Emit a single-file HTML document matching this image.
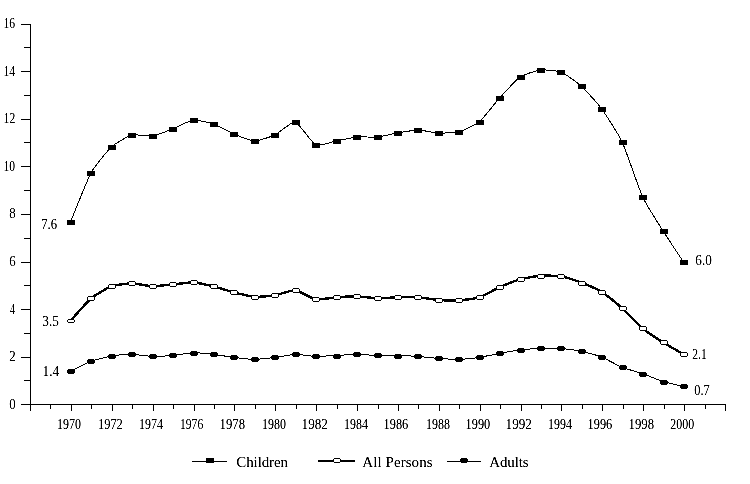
<!DOCTYPE html><html><head><meta charset="utf-8"><style>html,body{margin:0;padding:0;background:#fff;width:750px;height:484px;overflow:hidden}svg{display:block}text{font-family:"Liberation Serif",serif;fill:#000}</style></head><body>
<svg width="750" height="484" viewBox="0 0 750 484">
<defs><filter id="cr" x="0" y="0" width="750" height="484" filterUnits="userSpaceOnUse"><feComponentTransfer><feFuncA type="discrete" tableValues="0 1"/></feComponentTransfer></filter><filter id="gs" x="0" y="0" width="750" height="484" filterUnits="userSpaceOnUse"><feColorMatrix type="saturate" values="0"/><feComponentTransfer><feFuncA type="linear" slope="1.7" intercept="-0.25"/></feComponentTransfer></filter></defs>
<rect width="750" height="484" fill="#fff"/>
<g shape-rendering="crispEdges" fill="#000">
<rect x="30" y="24" width="1" height="387"/>
<rect x="21" y="404" width="705" height="1"/>
<rect x="21" y="404" width="9" height="1"/>
<rect x="24" y="380" width="6" height="1"/>
<rect x="21" y="357" width="9" height="1"/>
<rect x="24" y="333" width="6" height="1"/>
<rect x="21" y="309" width="9" height="1"/>
<rect x="24" y="285" width="6" height="1"/>
<rect x="21" y="262" width="9" height="1"/>
<rect x="24" y="238" width="6" height="1"/>
<rect x="21" y="214" width="9" height="1"/>
<rect x="24" y="190" width="6" height="1"/>
<rect x="21" y="166" width="9" height="1"/>
<rect x="24" y="142" width="6" height="1"/>
<rect x="21" y="119" width="9" height="1"/>
<rect x="24" y="95" width="6" height="1"/>
<rect x="21" y="71" width="9" height="1"/>
<rect x="24" y="47" width="6" height="1"/>
<rect x="21" y="24" width="9" height="1"/>
<rect x="30" y="404" width="1" height="7"/>
<rect x="50" y="404" width="1" height="5"/>
<rect x="71" y="404" width="1" height="7"/>
<rect x="91" y="404" width="1" height="5"/>
<rect x="112" y="404" width="1" height="7"/>
<rect x="132" y="404" width="1" height="5"/>
<rect x="153" y="404" width="1" height="7"/>
<rect x="173" y="404" width="1" height="5"/>
<rect x="194" y="404" width="1" height="7"/>
<rect x="214" y="404" width="1" height="5"/>
<rect x="234" y="404" width="1" height="7"/>
<rect x="255" y="404" width="1" height="5"/>
<rect x="275" y="404" width="1" height="7"/>
<rect x="296" y="404" width="1" height="5"/>
<rect x="316" y="404" width="1" height="7"/>
<rect x="337" y="404" width="1" height="5"/>
<rect x="357" y="404" width="1" height="7"/>
<rect x="378" y="404" width="1" height="5"/>
<rect x="398" y="404" width="1" height="7"/>
<rect x="418" y="404" width="1" height="5"/>
<rect x="439" y="404" width="1" height="7"/>
<rect x="459" y="404" width="1" height="5"/>
<rect x="480" y="404" width="1" height="7"/>
<rect x="500" y="404" width="1" height="5"/>
<rect x="521" y="404" width="1" height="7"/>
<rect x="541" y="404" width="1" height="5"/>
<rect x="561" y="404" width="1" height="7"/>
<rect x="582" y="404" width="1" height="5"/>
<rect x="602" y="404" width="1" height="7"/>
<rect x="623" y="404" width="1" height="5"/>
<rect x="643" y="404" width="1" height="7"/>
<rect x="664" y="404" width="1" height="5"/>
<rect x="684" y="404" width="1" height="7"/>
<rect x="705" y="404" width="1" height="5"/>
<rect x="725" y="404" width="1" height="7"/>
</g>
<g fill="none" stroke="#000" shape-rendering="crispEdges">
<path d="M70.50 222.00 C72.20 217.92 87.53 179.25 90.93 173.00 C94.34 166.75 107.96 150.17 111.37 147.00 C114.77 143.83 128.39 135.92 131.80 135.00 C135.21 134.08 148.83 136.50 152.23 136.00 C155.64 135.50 169.26 130.33 172.67 129.00 C176.07 127.67 189.69 120.42 193.10 120.00 C196.51 119.58 210.13 122.83 213.53 124.00 C216.94 125.17 230.56 132.58 233.97 134.00 C237.37 135.42 250.99 140.92 254.40 141.00 C257.81 141.08 271.43 136.58 274.83 135.00 C278.24 133.42 291.86 121.17 295.27 122.00 C298.67 122.83 312.29 143.42 315.70 145.00 C319.11 146.58 332.73 141.67 336.13 141.00 C339.54 140.33 353.16 137.33 356.57 137.00 C359.97 136.67 373.59 137.33 377.00 137.00 C380.41 136.67 394.03 133.58 397.43 133.00 C400.84 132.42 414.46 130.00 417.87 130.00 C421.27 130.00 434.89 132.83 438.30 133.00 C441.71 133.17 455.33 132.92 458.73 132.00 C462.14 131.08 475.76 124.83 479.17 122.00 C482.57 119.17 496.19 101.75 499.60 98.00 C503.01 94.25 516.63 79.33 520.03 77.00 C523.44 74.67 537.06 70.42 540.47 70.00 C543.87 69.58 557.49 70.67 560.90 72.00 C564.31 73.33 577.93 82.92 581.33 86.00 C584.74 89.08 598.36 104.33 601.77 109.00 C605.17 113.67 618.79 134.67 622.20 142.00 C625.61 149.33 639.23 189.58 642.63 197.00 C646.04 204.42 659.66 225.58 663.07 231.00 C666.47 236.42 681.80 259.42 683.50 262.00" stroke-width="1"/>
<path d="M70.50 320.70 C72.20 318.85 87.53 301.38 90.93 298.50 C94.34 295.62 107.96 287.46 111.37 286.20 C114.77 284.94 128.39 283.40 131.80 283.40 C135.21 283.40 148.83 286.11 152.23 286.20 C155.64 286.29 169.26 284.82 172.67 284.50 C176.07 284.18 189.69 282.24 193.10 282.40 C196.51 282.56 210.13 285.57 213.53 286.40 C216.94 287.23 230.56 291.53 233.97 292.40 C237.37 293.27 250.99 296.55 254.40 296.80 C257.81 297.05 271.43 295.95 274.83 295.40 C278.24 294.85 291.86 289.87 295.27 290.20 C298.67 290.53 312.29 298.81 315.70 299.40 C319.11 299.99 332.73 297.55 336.13 297.30 C339.54 297.05 353.16 296.32 356.57 296.40 C359.97 296.47 373.59 298.12 377.00 298.20 C380.41 298.28 394.03 297.48 397.43 297.40 C400.84 297.32 414.46 296.98 417.87 297.20 C421.27 297.42 434.89 299.75 438.30 300.00 C441.71 300.25 455.33 300.42 458.73 300.20 C462.14 299.98 475.76 298.48 479.17 297.40 C482.57 296.32 496.19 288.70 499.60 287.20 C503.01 285.70 516.63 280.37 520.03 279.40 C523.44 278.43 537.06 275.85 540.47 275.60 C543.87 275.35 557.49 275.82 560.90 276.40 C564.31 276.98 577.93 281.30 581.33 282.60 C584.74 283.90 598.36 289.86 601.77 292.00 C605.17 294.14 618.79 305.27 622.20 308.30 C625.61 311.33 639.23 325.56 642.63 328.40 C646.04 331.24 659.66 340.24 663.07 342.40 C666.47 344.56 681.80 353.31 683.50 354.30" stroke-width="2.4"/>
<path d="M70.50 371.40 C72.20 370.57 87.53 362.68 90.93 361.40 C94.34 360.12 107.96 356.58 111.37 356.00 C114.77 355.42 128.39 354.37 131.80 354.40 C135.21 354.43 148.83 356.32 152.23 356.40 C155.64 356.48 169.26 355.71 172.67 355.40 C176.07 355.09 189.69 352.78 193.10 352.70 C196.51 352.62 210.13 354.01 213.53 354.40 C216.94 354.79 230.56 356.98 233.97 357.40 C237.37 357.82 250.99 359.40 254.40 359.40 C257.81 359.40 271.43 357.82 274.83 357.40 C278.24 356.98 291.86 354.48 295.27 354.40 C298.67 354.32 312.29 356.31 315.70 356.40 C319.11 356.49 332.73 355.67 336.13 355.50 C339.54 355.33 353.16 354.41 356.57 354.40 C359.97 354.39 373.59 355.31 377.00 355.40 C380.41 355.49 394.03 355.42 397.43 355.50 C400.84 355.58 414.46 356.16 417.87 356.40 C421.27 356.64 434.89 358.15 438.30 358.40 C441.71 358.65 455.33 359.48 458.73 359.40 C462.14 359.32 475.76 357.90 479.17 357.40 C482.57 356.90 496.19 354.02 499.60 353.40 C503.01 352.78 516.63 350.42 520.03 350.00 C523.44 349.58 537.06 348.53 540.47 348.40 C543.87 348.27 557.49 348.15 560.90 348.40 C564.31 348.65 577.93 350.67 581.33 351.40 C584.74 352.12 598.36 355.77 601.77 357.10 C605.17 358.43 618.79 366.02 622.20 367.40 C625.61 368.77 639.23 372.42 642.63 373.60 C646.04 374.78 659.66 380.53 663.07 381.60 C666.47 382.67 681.80 386.00 683.50 386.40" stroke-width="1"/>
</g>
<g shape-rendering="crispEdges">
<rect x="67" y="220" width="8" height="5" fill="#000"/>
<rect x="87" y="171" width="8" height="5" fill="#000"/>
<rect x="108" y="145" width="8" height="5" fill="#000"/>
<rect x="128" y="133" width="8" height="5" fill="#000"/>
<rect x="149" y="134" width="8" height="5" fill="#000"/>
<rect x="169" y="127" width="8" height="5" fill="#000"/>
<rect x="190" y="118" width="8" height="5" fill="#000"/>
<rect x="210" y="122" width="8" height="5" fill="#000"/>
<rect x="230" y="132" width="8" height="5" fill="#000"/>
<rect x="251" y="139" width="8" height="5" fill="#000"/>
<rect x="271" y="133" width="8" height="5" fill="#000"/>
<rect x="292" y="120" width="8" height="5" fill="#000"/>
<rect x="312" y="143" width="8" height="5" fill="#000"/>
<rect x="333" y="139" width="8" height="5" fill="#000"/>
<rect x="353" y="135" width="8" height="5" fill="#000"/>
<rect x="374" y="135" width="8" height="5" fill="#000"/>
<rect x="394" y="131" width="8" height="5" fill="#000"/>
<rect x="414" y="128" width="8" height="5" fill="#000"/>
<rect x="435" y="131" width="8" height="5" fill="#000"/>
<rect x="455" y="130" width="8" height="5" fill="#000"/>
<rect x="476" y="120" width="8" height="5" fill="#000"/>
<rect x="496" y="96" width="8" height="5" fill="#000"/>
<rect x="517" y="75" width="8" height="5" fill="#000"/>
<rect x="537" y="68" width="8" height="5" fill="#000"/>
<rect x="557" y="70" width="8" height="5" fill="#000"/>
<rect x="578" y="84" width="8" height="5" fill="#000"/>
<rect x="598" y="107" width="8" height="5" fill="#000"/>
<rect x="619" y="140" width="8" height="5" fill="#000"/>
<rect x="639" y="195" width="8" height="5" fill="#000"/>
<rect x="660" y="229" width="8" height="5" fill="#000"/>
<rect x="680" y="260" width="8" height="5" fill="#000"/>
<path d="M68 319h6v1h1v2h-1v1h-6v-1h-1v-2h1z" fill="#000"/>
<rect x="68" y="320" width="6" height="2" fill="#fff"/>
<path d="M88 296h6v1h1v3h-1v1h-6v-1h-1v-3h1z" fill="#000"/>
<rect x="88" y="297" width="6" height="3" fill="#fff"/>
<path d="M109 284h6v1h1v3h-1v1h-6v-1h-1v-3h1z" fill="#000"/>
<rect x="109" y="285" width="6" height="3" fill="#fff"/>
<path d="M129 281h6v1h1v3h-1v1h-6v-1h-1v-3h1z" fill="#000"/>
<rect x="129" y="282" width="6" height="3" fill="#fff"/>
<path d="M150 284h6v1h1v3h-1v1h-6v-1h-1v-3h1z" fill="#000"/>
<rect x="150" y="285" width="6" height="3" fill="#fff"/>
<path d="M170 282h6v1h1v3h-1v1h-6v-1h-1v-3h1z" fill="#000"/>
<rect x="170" y="283" width="6" height="3" fill="#fff"/>
<path d="M191 280h6v1h1v3h-1v1h-6v-1h-1v-3h1z" fill="#000"/>
<rect x="191" y="281" width="6" height="3" fill="#fff"/>
<path d="M211 284h6v1h1v3h-1v1h-6v-1h-1v-3h1z" fill="#000"/>
<rect x="211" y="285" width="6" height="3" fill="#fff"/>
<path d="M231 290h6v1h1v3h-1v1h-6v-1h-1v-3h1z" fill="#000"/>
<rect x="231" y="291" width="6" height="3" fill="#fff"/>
<path d="M252 295h6v1h1v3h-1v1h-6v-1h-1v-3h1z" fill="#000"/>
<rect x="252" y="296" width="6" height="3" fill="#fff"/>
<path d="M272 293h6v1h1v3h-1v1h-6v-1h-1v-3h1z" fill="#000"/>
<rect x="272" y="294" width="6" height="3" fill="#fff"/>
<path d="M293 288h6v1h1v3h-1v1h-6v-1h-1v-3h1z" fill="#000"/>
<rect x="293" y="289" width="6" height="3" fill="#fff"/>
<path d="M313 297h6v1h1v3h-1v1h-6v-1h-1v-3h1z" fill="#000"/>
<rect x="313" y="298" width="6" height="3" fill="#fff"/>
<path d="M334 295h6v1h1v3h-1v1h-6v-1h-1v-3h1z" fill="#000"/>
<rect x="334" y="296" width="6" height="3" fill="#fff"/>
<path d="M354 294h6v1h1v3h-1v1h-6v-1h-1v-3h1z" fill="#000"/>
<rect x="354" y="295" width="6" height="3" fill="#fff"/>
<path d="M375 296h6v1h1v3h-1v1h-6v-1h-1v-3h1z" fill="#000"/>
<rect x="375" y="297" width="6" height="3" fill="#fff"/>
<path d="M395 295h6v1h1v3h-1v1h-6v-1h-1v-3h1z" fill="#000"/>
<rect x="395" y="296" width="6" height="3" fill="#fff"/>
<path d="M415 295h6v1h1v3h-1v1h-6v-1h-1v-3h1z" fill="#000"/>
<rect x="415" y="296" width="6" height="3" fill="#fff"/>
<path d="M436 298h6v1h1v3h-1v1h-6v-1h-1v-3h1z" fill="#000"/>
<rect x="436" y="299" width="6" height="3" fill="#fff"/>
<path d="M456 298h6v1h1v3h-1v1h-6v-1h-1v-3h1z" fill="#000"/>
<rect x="456" y="299" width="6" height="3" fill="#fff"/>
<path d="M477 295h6v1h1v3h-1v1h-6v-1h-1v-3h1z" fill="#000"/>
<rect x="477" y="296" width="6" height="3" fill="#fff"/>
<path d="M497 285h6v1h1v3h-1v1h-6v-1h-1v-3h1z" fill="#000"/>
<rect x="497" y="286" width="6" height="3" fill="#fff"/>
<path d="M518 277h6v1h1v3h-1v1h-6v-1h-1v-3h1z" fill="#000"/>
<rect x="518" y="278" width="6" height="3" fill="#fff"/>
<path d="M538 274h6v1h1v3h-1v1h-6v-1h-1v-3h1z" fill="#000"/>
<rect x="538" y="275" width="6" height="3" fill="#fff"/>
<path d="M558 274h6v1h1v3h-1v1h-6v-1h-1v-3h1z" fill="#000"/>
<rect x="558" y="275" width="6" height="3" fill="#fff"/>
<path d="M579 281h6v1h1v3h-1v1h-6v-1h-1v-3h1z" fill="#000"/>
<rect x="579" y="282" width="6" height="3" fill="#fff"/>
<path d="M599 290h6v1h1v3h-1v1h-6v-1h-1v-3h1z" fill="#000"/>
<rect x="599" y="291" width="6" height="3" fill="#fff"/>
<path d="M620 306h6v1h1v3h-1v1h-6v-1h-1v-3h1z" fill="#000"/>
<rect x="620" y="307" width="6" height="3" fill="#fff"/>
<path d="M640 326h6v1h1v3h-1v1h-6v-1h-1v-3h1z" fill="#000"/>
<rect x="640" y="327" width="6" height="3" fill="#fff"/>
<path d="M661 340h6v1h1v3h-1v1h-6v-1h-1v-3h1z" fill="#000"/>
<rect x="661" y="341" width="6" height="3" fill="#fff"/>
<path d="M681 352h6v1h1v3h-1v1h-6v-1h-1v-3h1z" fill="#000"/>
<rect x="681" y="353" width="6" height="3" fill="#fff"/>
<path d="M68 369h6v1h1v3h-1v1h-6v-1h-1v-3h1z" fill="#000"/>
<path d="M88 359h6v1h1v3h-1v1h-6v-1h-1v-3h1z" fill="#000"/>
<path d="M109 354h6v1h1v3h-1v1h-6v-1h-1v-3h1z" fill="#000"/>
<path d="M129 352h6v1h1v3h-1v1h-6v-1h-1v-3h1z" fill="#000"/>
<path d="M150 354h6v1h1v3h-1v1h-6v-1h-1v-3h1z" fill="#000"/>
<path d="M170 353h6v1h1v3h-1v1h-6v-1h-1v-3h1z" fill="#000"/>
<path d="M191 351h6v1h1v3h-1v1h-6v-1h-1v-3h1z" fill="#000"/>
<path d="M211 352h6v1h1v3h-1v1h-6v-1h-1v-3h1z" fill="#000"/>
<path d="M231 355h6v1h1v3h-1v1h-6v-1h-1v-3h1z" fill="#000"/>
<path d="M252 357h6v1h1v3h-1v1h-6v-1h-1v-3h1z" fill="#000"/>
<path d="M272 355h6v1h1v3h-1v1h-6v-1h-1v-3h1z" fill="#000"/>
<path d="M293 352h6v1h1v3h-1v1h-6v-1h-1v-3h1z" fill="#000"/>
<path d="M313 354h6v1h1v3h-1v1h-6v-1h-1v-3h1z" fill="#000"/>
<path d="M334 354h6v1h1v3h-1v1h-6v-1h-1v-3h1z" fill="#000"/>
<path d="M354 352h6v1h1v3h-1v1h-6v-1h-1v-3h1z" fill="#000"/>
<path d="M375 353h6v1h1v3h-1v1h-6v-1h-1v-3h1z" fill="#000"/>
<path d="M395 354h6v1h1v3h-1v1h-6v-1h-1v-3h1z" fill="#000"/>
<path d="M415 354h6v1h1v3h-1v1h-6v-1h-1v-3h1z" fill="#000"/>
<path d="M436 356h6v1h1v3h-1v1h-6v-1h-1v-3h1z" fill="#000"/>
<path d="M456 357h6v1h1v3h-1v1h-6v-1h-1v-3h1z" fill="#000"/>
<path d="M477 355h6v1h1v3h-1v1h-6v-1h-1v-3h1z" fill="#000"/>
<path d="M497 351h6v1h1v3h-1v1h-6v-1h-1v-3h1z" fill="#000"/>
<path d="M518 348h6v1h1v3h-1v1h-6v-1h-1v-3h1z" fill="#000"/>
<path d="M538 346h6v1h1v3h-1v1h-6v-1h-1v-3h1z" fill="#000"/>
<path d="M558 346h6v1h1v3h-1v1h-6v-1h-1v-3h1z" fill="#000"/>
<path d="M579 349h6v1h1v3h-1v1h-6v-1h-1v-3h1z" fill="#000"/>
<path d="M599 355h6v1h1v3h-1v1h-6v-1h-1v-3h1z" fill="#000"/>
<path d="M620 365h6v1h1v3h-1v1h-6v-1h-1v-3h1z" fill="#000"/>
<path d="M640 372h6v1h1v3h-1v1h-6v-1h-1v-3h1z" fill="#000"/>
<path d="M661 380h6v1h1v3h-1v1h-6v-1h-1v-3h1z" fill="#000"/>
<path d="M681 384h6v1h1v3h-1v1h-6v-1h-1v-3h1z" fill="#000"/>
</g>
<g shape-rendering="crispEdges" fill="#000">
<rect x="192" y="461" width="35" height="1"/>
<rect x="206" y="458" width="8" height="5"/>
<rect x="318" y="460" width="37" height="2"/>
<path d="M334 458h6v1h1v3h-1v1h-6v-1h-1v-3h1z"/>
<rect x="334" y="459" width="6" height="3" fill="#fff"/>
<rect x="447" y="461" width="34" height="1"/>
<path d="M461 458h6v1h1v3h-1v1h-6v-1h-1v-3h1z"/>
</g>
<g filter="url(#gs)">
<text x="9.30" y="409.00" font-size="13.55" textLength="6.43" lengthAdjust="spacingAndGlyphs">0</text>
<text x="9.30" y="361.00" font-size="13.55" textLength="6.43" lengthAdjust="spacingAndGlyphs">2</text>
<text x="10.00" y="314.00" font-size="13.55" textLength="4.84" lengthAdjust="spacingAndGlyphs">4</text>
<text x="9.30" y="266.00" font-size="13.55" textLength="6.43" lengthAdjust="spacingAndGlyphs">6</text>
<text x="9.30" y="218.00" font-size="13.55" textLength="6.43" lengthAdjust="spacingAndGlyphs">8</text>
<text x="3.60" y="171.00" font-size="13.55" textLength="11.56" lengthAdjust="spacingAndGlyphs">10</text>
<text x="3.60" y="123.00" font-size="13.55" textLength="11.65" lengthAdjust="spacingAndGlyphs">12</text>
<text x="3.60" y="76.00" font-size="13.55" textLength="11.48" lengthAdjust="spacingAndGlyphs">14</text>
<text x="3.60" y="28.00" font-size="13.55" textLength="11.56" lengthAdjust="spacingAndGlyphs">16</text>
<text x="57.00" y="429.00" font-size="13.55" textLength="24.02" lengthAdjust="spacingAndGlyphs">1970</text>
<text x="98.00" y="429.00" font-size="13.55" textLength="24.80" lengthAdjust="spacingAndGlyphs">1972</text>
<text x="139.00" y="429.00" font-size="13.55" textLength="23.93" lengthAdjust="spacingAndGlyphs">1974</text>
<text x="180.00" y="429.00" font-size="13.55" textLength="23.17" lengthAdjust="spacingAndGlyphs">1976</text>
<text x="219.60" y="429.00" font-size="13.55" textLength="25.46" lengthAdjust="spacingAndGlyphs">1978</text>
<text x="262.00" y="429.00" font-size="13.55" textLength="24.02" lengthAdjust="spacingAndGlyphs">1980</text>
<text x="301.60" y="429.00" font-size="13.55" textLength="26.31" lengthAdjust="spacingAndGlyphs">1982</text>
<text x="344.00" y="429.00" font-size="13.55" textLength="23.93" lengthAdjust="spacingAndGlyphs">1984</text>
<text x="383.60" y="429.00" font-size="13.55" textLength="24.69" lengthAdjust="spacingAndGlyphs">1986</text>
<text x="426.00" y="429.00" font-size="13.55" textLength="24.02" lengthAdjust="spacingAndGlyphs">1988</text>
<text x="465.60" y="429.00" font-size="13.55" textLength="24.69" lengthAdjust="spacingAndGlyphs">1990</text>
<text x="505.60" y="429.00" font-size="13.55" textLength="26.31" lengthAdjust="spacingAndGlyphs">1992</text>
<text x="548.00" y="429.00" font-size="13.55" textLength="23.93" lengthAdjust="spacingAndGlyphs">1994</text>
<text x="587.60" y="429.00" font-size="13.55" textLength="24.69" lengthAdjust="spacingAndGlyphs">1996</text>
<text x="628.60" y="429.00" font-size="13.55" textLength="25.46" lengthAdjust="spacingAndGlyphs">1998</text>
<text x="670.30" y="429.00" font-size="13.55" textLength="23.83" lengthAdjust="spacingAndGlyphs">2000</text>
<text x="41.30" y="229.00" font-size="13.55" textLength="15.80" lengthAdjust="spacingAndGlyphs">7.6</text>
<text x="42.30" y="326.00" font-size="13.55" textLength="16.53" lengthAdjust="spacingAndGlyphs">3.5</text>
<text x="42.60" y="376.00" font-size="13.55" textLength="16.63" lengthAdjust="spacingAndGlyphs">1.4</text>
<text x="695.30" y="265.00" font-size="13.55" textLength="16.53" lengthAdjust="spacingAndGlyphs">6.0</text>
<text x="692.30" y="359.00" font-size="13.55" textLength="14.50" lengthAdjust="spacingAndGlyphs">2.1</text>
<text x="694.30" y="395.00" font-size="13.55" textLength="15.48" lengthAdjust="spacingAndGlyphs">0.7</text>
<text x="236.30" y="467.00" font-size="15.00" textLength="51.78" lengthAdjust="spacing">Children</text>
<text x="362.30" y="467.00" font-size="15.00" textLength="70.30" lengthAdjust="spacing">All Persons</text>
<text x="489.30" y="467.00" font-size="15.00" textLength="39.18" lengthAdjust="spacing">Adults</text>
</g>
</svg></body></html>
